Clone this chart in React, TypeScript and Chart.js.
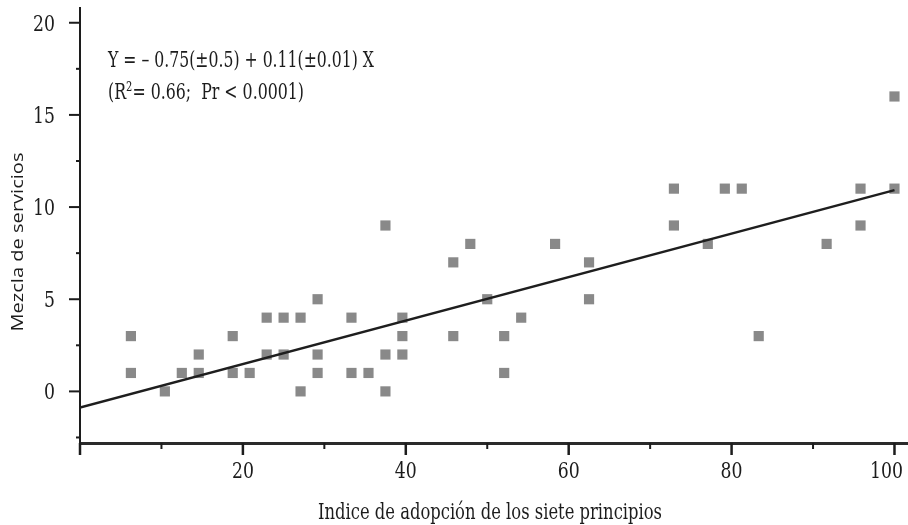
import React, { useEffect, useRef } from "react";
import { Chart, registerables } from "chart.js";

Chart.register(...registerables);

// ---- data ----
const adoptionIndex = [
  6.25, 6.25, 10.42, 12.5, 14.58, 14.58, 18.75, 18.75, 20.83, 22.92, 22.92, 25, 25,
  27.08, 27.08, 29.17, 29.17, 29.17, 33.33, 33.33, 35.42, 37.5, 37.5, 37.5, 39.58,
  39.58, 39.58, 45.83, 45.83, 47.92, 50, 52.08, 52.08, 54.17, 58.33, 62.5, 62.5,
  72.92, 72.92, 77.08, 79.17, 81.25, 83.33, 91.67, 95.83, 95.83, 100, 100,
];
const serviceMix = [
  3, 1, 0, 1, 2, 1, 3, 1, 1, 4, 2, 4, 2, 4, 0, 5, 2, 1, 4, 1, 1, 9, 2, 0, 4, 3, 2, 7,
  3, 8, 5, 3, 1, 4, 8, 7, 5, 11, 9, 8, 11, 11, 3, 8, 11, 9, 16, 11,
];
const fitX = [0, 100];
const fitY = [-0.88, 10.92];

const xLabelValues = [20, 40, 60, 80, 100];
const yLabelValues = [0, 5, 10, 15, 20];
const xMajorTicks = [0, 20, 40, 60, 80, 100];
const xMinorTicks = [10, 30, 50, 70, 90];
const yMajorTicks = [0, 5, 10, 15, 20];
const yMinorTicks = [-2.5, 2.5, 7.5, 12.5, 17.5];

const equationText = "Y = – 0.75(±0.5) + 0.11(±0.01) X";
const statsText = "(R²= 0.66;  Pr < 0.0001)";
const xTitle = "Indice de adopción de los siete principios";
const yTitle = "Mezcla de servicios";

const ink = "#1c1c1c";
const serif = "'DejaVu Serif', 'Liberation Serif', serif";

function squeezed(
  ctx: CanvasRenderingContext2D,
  text: string,
  x: number,
  y: number,
  font: string,
  align: CanvasTextAlign,
  opts: { width?: number; scaleX?: number; rotate?: number; maxRight?: number }
) {
  ctx.save();
  ctx.font = font;
  ctx.fillStyle = ink;
  const natural = ctx.measureText(text).width;
  const sx = opts.width ? opts.width / natural : opts.scaleX ?? 1;
  let px = x;
  if (opts.maxRight !== undefined && align === "center") {
    px = Math.min(x, opts.maxRight - (natural * sx) / 2);
  }
  ctx.translate(px, y);
  if (opts.rotate) ctx.rotate(opts.rotate);
  ctx.scale(sx, 1);
  ctx.textAlign = align;
  ctx.textBaseline = "alphabetic";
  ctx.fillText(text, 0, 0);
  ctx.restore();
}

const decorPlugin = {
  id: "decor",
  afterDraw(chart: any) {
    const { ctx, chartArea } = chart;
    const xs = chart.scales.x;
    const ys = chart.scales.y;
    ctx.save();
    ctx.strokeStyle = ink;
    ctx.lineCap = "butt";

    // y tick marks
    ctx.lineWidth = 2;
    yMajorTicks.forEach((v) => {
      const p = ys.getPixelForValue(v);
      ctx.beginPath();
      ctx.moveTo(chartArea.left - 11, p);
      ctx.lineTo(chartArea.left, p);
      ctx.stroke();
    });
    yMinorTicks.forEach((v) => {
      const p = ys.getPixelForValue(v);
      ctx.beginPath();
      ctx.moveTo(chartArea.left - 4, p);
      ctx.lineTo(chartArea.left, p);
      ctx.stroke();
    });
    // x tick marks
    ctx.lineWidth = 2.5;
    xMajorTicks.forEach((v) => {
      const p = xs.getPixelForValue(v);
      ctx.beginPath();
      ctx.moveTo(p, chartArea.bottom);
      ctx.lineTo(p, chartArea.bottom + 12);
      ctx.stroke();
    });
    ctx.lineWidth = 2;
    xMinorTicks.forEach((v) => {
      const p = xs.getPixelForValue(v);
      ctx.beginPath();
      ctx.moveTo(p, chartArea.bottom);
      ctx.lineTo(p, chartArea.bottom + 6);
      ctx.stroke();
    });
    ctx.restore();

    // tick labels
    const tickFont = `23px ${serif}`;
    yLabelValues.forEach((v) => {
      const p = ys.getPixelForValue(v);
      squeezed(ctx, String(v), chartArea.left - 25, p + 8, tickFont, "right", { scaleX: 0.75 });
    });
    xLabelValues.forEach((v) => {
      const p = xs.getPixelForValue(v);
      squeezed(ctx, String(v), p, chartArea.bottom + 35, tickFont, "center", {
        scaleX: 0.75,
        maxRight: 903,
      });
    });

    // axis titles
    squeezed(ctx, xTitle, 318, 519, `22px ${serif}`, "left", { width: 344 });
    squeezed(ctx, yTitle, 22.5, 242, "17px 'Open Sans', 'Noto Sans', sans-serif", "center", {
      width: 179,
      rotate: -Math.PI / 2,
    });

    // regression annotation
    squeezed(ctx, equationText, 108, 66.5, `23px ${serif}`, "left", { width: 266 });
    squeezed(ctx, statsText, 108, 99, `23px ${serif}`, "left", { width: 196 });
  },
};

export default function App() {
  const ref = useRef<HTMLCanvasElement>(null);

  useEffect(() => {
    const points = adoptionIndex.map((x, i) => ({ x, y: serviceMix[i] }));
    const fit = fitX.map((x, i) => ({ x, y: fitY[i] }));
    const chart = new Chart(ref.current as HTMLCanvasElement, {
      type: "scatter",
      data: {
        datasets: [
          {
            type: "scatter",
            data: points,
            pointStyle: "rect",
            pointRadius: 7.2,
            backgroundColor: "#898989",
            borderWidth: 0,
            order: 1,
          } as any,
          {
            type: "line",
            data: fit,
            borderColor: "#1e1e1e",
            borderWidth: 2.5,
            pointRadius: 0,
            fill: false,
            order: 0,
          } as any,
        ],
      },
      options: {
        animation: false,
        responsive: false,
        devicePixelRatio: 1,
        layout: { autoPadding: false, padding: { top: 8, right: 0, bottom: 0, left: 0 } },
        plugins: {
          legend: { display: false },
          tooltip: { enabled: false },
          title: { display: false },
        },
        scales: {
          x: {
            type: "linear",
            min: 0,
            max: 101.66,
            grid: { display: false, drawTicks: false },
            border: { display: true, color: "#2a2a2a", width: 3 },
            ticks: { display: false, stepSize: 10 },
            afterFit: (s: any) => {
              s.height = 82;
              s.paddingLeft = 0;
              s.paddingRight = 0;
            },
          },
          y: {
            type: "linear",
            min: -2.8,
            max: 20.8,
            grid: { display: false, drawTicks: false },
            border: { display: true, color: "#1c1c1c", width: 2 },
            ticks: { display: false, stepSize: 2.5 },
            afterFit: (s: any) => {
              s.width = 80;
              s.paddingTop = 0;
              s.paddingBottom = 0;
            },
          },
        },
      },
      plugins: [decorPlugin],
    } as any);
    return () => chart.destroy();
  }, []);

  return (
    <div style={{ position: "absolute", left: 0, top: 0, width: 908, height: 525, background: "#fff" }}>
      <canvas ref={ref} width={908} height={525} style={{ display: "block" }} />
    </div>
  );
}
